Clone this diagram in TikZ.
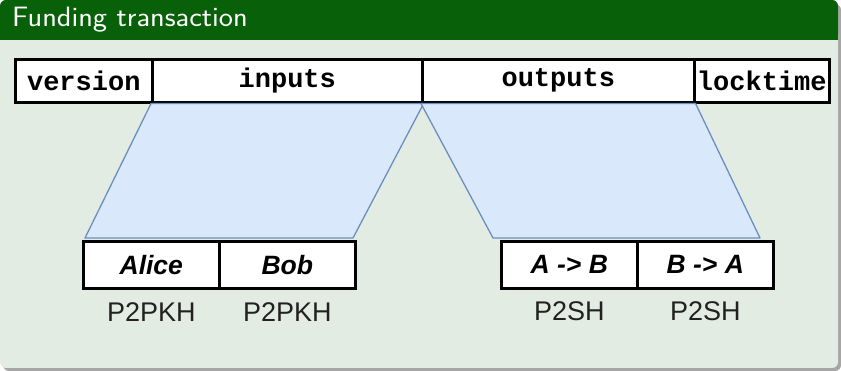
\documentclass[tikz,border=0pt]{standalone}
\usepackage{fontspec}
\setsansfont{Latin Modern Sans}
\newfontfamily\monob{Liberation Mono}
\newfontfamily\arial{Liberation Sans}
\usetikzlibrary{calc}
\definecolor{headgreen}{RGB}{8,96,8}
\definecolor{bodygreen}{RGB}{227,236,227}
\definecolor{mapfill}{RGB}{218,232,252}
\definecolor{mapline}{RGB}{108,142,191}
\tikzset{
  x=1pt, y=-1pt,
  field/.style={draw=black, line width=2.6pt, fill=white, anchor=north west,
    minimum height=43pt, inner sep=0pt, font=\monob\bfseries\fontsize{27}{27}\selectfont},
  owner/.style={draw=black, line width=2.6pt, fill=white, anchor=north west,
    minimum width=136pt, minimum height=47pt, inner sep=0pt,
    font=\arial\bfseries\itshape\fontsize{26.5}{26.5}\selectfont},
  kind/.style={font=\arial\fontsize{27}{27}\selectfont, text=black!87, inner sep=0pt},
  mapping/.style={fill=mapfill, draw=mapline, line width=1.3pt, line join=round},
}
\begin{document}
\begin{tikzpicture}
\useasboundingbox (0,0) rectangle (841,371);
% block frame with shadow
\fill[black!35, rounded corners=6pt] (3,4) rectangle (841,371);
\fill[bodygreen, rounded corners=6pt] (0,0) rectangle (838,368);
\fill[headgreen, rounded corners=6pt] (0,0) rectangle (838,40);
\fill[headgreen] (0,30) rectangle (838,40);
\node[anchor=west, text=white, font=\sffamily\fontsize{28}{28}\selectfont, inner sep=0pt]
  (title) at (12,20) {\scalebox{1.08}[1]{Funding transaction}};

% transaction fields
\node[field, minimum width=137pt] (version) at (14,58) {version};
\node[field, minimum width=270pt] (inputs) at (151,58) {inputs};
\node[field, minimum width=272pt] (outputs) at (421,58) {outputs};
\node[field, minimum width=135pt] (locktime) at (693,58) {locktime};

% expanded inputs and outputs
\coordinate (inL) at (85,238);
\coordinate (inR) at (353,238);
\coordinate (outL) at (493,238);
\coordinate (outR) at (760,238);
\draw[mapping] (inputs.south west) -- (inputs.south east) -- (inR) -- (inL) -- cycle;
\draw[mapping] (outputs.south west) -- (outputs.south east) -- (outR) -- (outL) -- cycle;

\node[owner] (alice) at (82,240) {Alice};
\node[owner] (bob) at (218,240) {Bob};
\node[owner] (ab) at (500,240) {A -> B};
\node[owner] (ba) at (636,240) {B -> A};

\node[kind] (k1) at ($(alice.south)+(0,22)$) {P2PKH};
\node[kind] (k2) at ($(bob.south)+(0,22)$) {P2PKH};
\node[kind] (k3) at ($(ab.south)+(0,22)$) {P2SH};
\node[kind] (k4) at ($(ba.south)+(0,22)$) {P2SH};
\end{tikzpicture}
\end{document}
